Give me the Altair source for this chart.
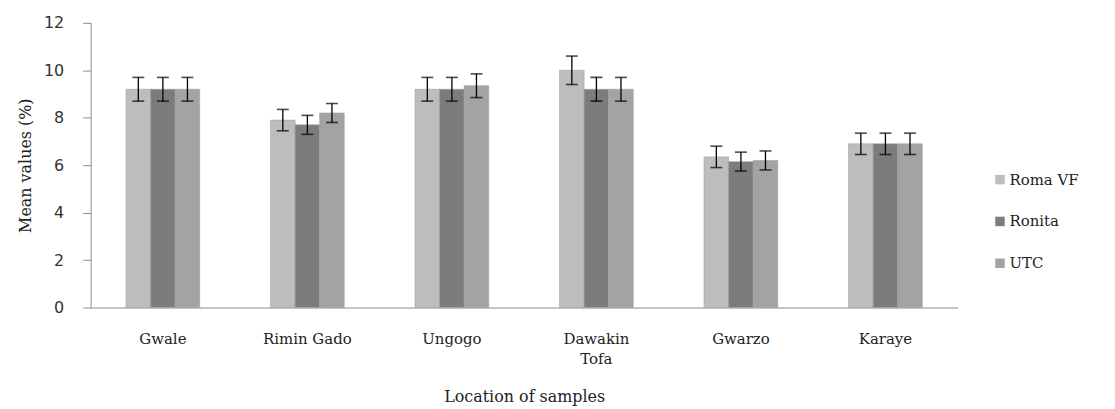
import altair as alt
import pandas as pd

locations = ["Gwale", "Rimin Gado", "Ungogo", "Dawakin Tofa", "Gwarzo", "Karaye"]
series = ["Roma VF", "Ronita", "UTC"]
roma_vf = [9.2, 7.9, 9.2, 10.0, 6.35, 6.9]
ronita = [9.2, 7.7, 9.2, 9.2, 6.15, 6.9]
utc = [9.2, 8.2, 9.35, 9.2, 6.2, 6.9]
roma_vf_err = [0.5, 0.45, 0.5, 0.6, 0.45, 0.45]
ronita_err = [0.5, 0.4, 0.5, 0.5, 0.4, 0.45]
utc_err = [0.5, 0.4, 0.5, 0.5, 0.4, 0.45]
y_ticks = [0, 2, 4, 6, 8, 10, 12]

rows = []
for s, vals, errs in zip(series, [roma_vf, ronita, utc], [roma_vf_err, ronita_err, utc_err]):
    for loc, v, e in zip(locations, vals, errs):
        rows.append({"loc": loc, "series": s, "value": v, "lo": v - e, "hi": v + e})
df = pd.DataFrame(rows)

SERIF = "DejaVu Serif"
SANS = "DejaVu Sans"

base = alt.Chart(df).encode(
    x=alt.X(
        "loc:N",
        sort=locations,
        scale=alt.Scale(paddingInner=0.49, paddingOuter=0.245),
        axis=alt.Axis(
            title="Location of samples",
            labelAngle=0,
            ticks=False,
            domainColor="#8c8c8c",
            labelFont=SERIF,
            labelFontSize=15,
            labelColor="#222",
            labelPadding=24,
            labelLineHeight=20,
            labelExpr="datum.label == 'Dawakin Tofa' ? ['Dawakin', 'Tofa'] : datum.label",
            titleFont=SERIF,
            titleFontSize=16,
            titleFontWeight="normal",
            titleColor="#222",
            titlePadding=22,
        ),
    ),
    xOffset=alt.XOffset("series:N", sort=series, scale=alt.Scale(paddingInner=0, paddingOuter=0)),
)

bars = base.mark_bar(stroke="#a0a0a0", strokeWidth=0.6).encode(
    y=alt.Y(
        "value:Q",
        scale=alt.Scale(domain=[0, 12], nice=False),
        axis=alt.Axis(
            values=y_ticks,
            title="Mean values (%)",
            grid=False,
            domainColor="#8c8c8c",
            tickColor="#8c8c8c",
            tickSize=8,
            labelFont=SANS,
            labelFontSize=16,
            labelColor="#333",
            labelPadding=19,
            titleFont=SERIF,
            titleFontSize=16,
            titleFontWeight="normal",
            titleColor="#222",
            titlePadding=10,
        ),
    ),
    color=alt.Color(
        "series:N",
        sort=series,
        scale=alt.Scale(domain=series, range=["#bdbdbd", "#7c7c7c", "#a3a3a3"]),
        legend=alt.Legend(
            title=None,
            orient="none",
            legendX=906,
            legendY=150,
            symbolType="square",
            symbolSize=90,
            symbolStrokeWidth=0,
            labelFont=SERIF,
            labelFontSize=15,
            labelColor="#222",
            labelOffset=2,
            rowPadding=26,
        ),
    ),
)

rules = base.mark_rule(color="black", strokeWidth=1.3).encode(y="lo:Q", y2="hi:Q")
cap_top = base.mark_tick(color="black", orient="horizontal", size=12, thickness=1.6).encode(y="hi:Q")
cap_bot = base.mark_tick(color="black", orient="horizontal", size=12, thickness=1.6).encode(y="lo:Q")

chart = (
    alt.layer(bars, rules, cap_top, cap_bot)
    .properties(
        width=871,
        height=286,
        autosize=alt.AutoSizeParams(type="none"),
        padding={"left": 83, "top": 14, "right": 150, "bottom": 98},
    )
    .configure_view(stroke=None)
)

chart.save("out.html", embed_options={"renderer": "svg", "actions": False})
